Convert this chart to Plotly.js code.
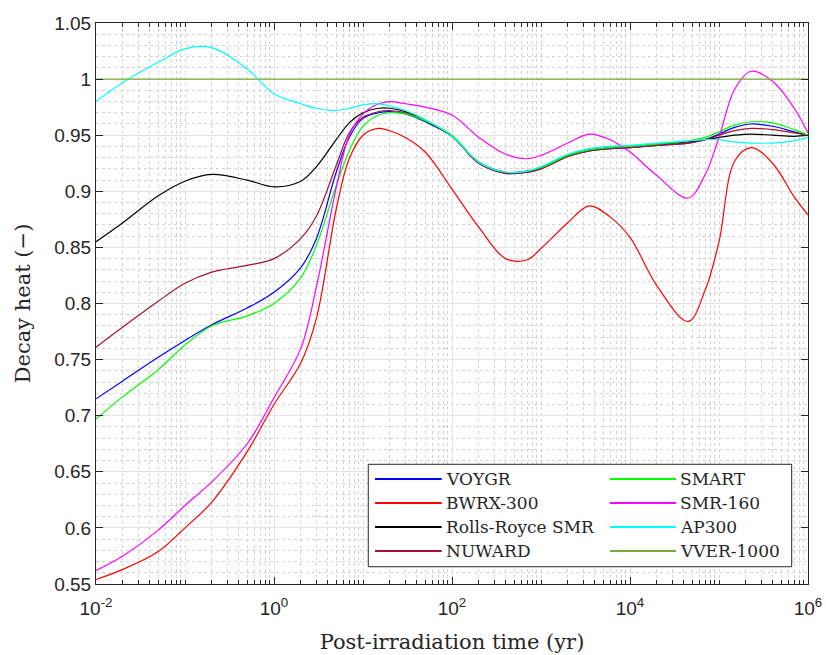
<!DOCTYPE html>
<html>
<head>
<meta charset="utf-8">
<script src="https://cdn.plot.ly/plotly-3.0.1.min.js"></script>
<style>html,body{margin:0;padding:0;background:#fff;}#chart{width:826px;height:655px;}</style>
</head>
<body>
<div id="chart"></div>
<script>
// Post-irradiation time (yr)
const timeYr = [0.01, 0.02, 0.05, 0.1, 0.2, 0.5, 1, 2, 3, 5, 7, 10, 15, 20, 30, 50, 100, 200, 400, 700,
  1000, 2000, 3500, 6000, 10000, 20000, 45000, 70000, 100000, 150000, 230000, 400000, 700000, 1000000];

const voygr = [0.715, 0.731, 0.752, 0.767, 0.781, 0.796, 0.810, 0.832, 0.858, 0.917, 0.948, 0.965, 0.970, 0.971, 0.969, 0.962, 0.949, 0.925, 0.916, 0.917,
  0.920, 0.931, 0.936, 0.938, 0.939, 0.941, 0.943, 0.946, 0.951, 0.957, 0.960, 0.958, 0.953, 0.950];
const bwrx300 = [0.554, 0.563, 0.579, 0.600, 0.623, 0.668, 0.710, 0.747, 0.787, 0.884, 0.929, 0.950, 0.956, 0.954, 0.948, 0.935, 0.902, 0.868, 0.840, 0.839,
  0.849, 0.872, 0.887, 0.877, 0.859, 0.816, 0.784, 0.812, 0.855, 0.927, 0.939, 0.925, 0.895, 0.879];
const rollsRoyce = [0.855, 0.872, 0.896, 0.909, 0.915, 0.910, 0.904, 0.909, 0.922, 0.946, 0.961, 0.970, 0.974, 0.974, 0.971, 0.963, 0.949, 0.926, 0.917, 0.918,
  0.921, 0.932, 0.937, 0.939, 0.940, 0.942, 0.944, 0.946, 0.948, 0.950, 0.951, 0.950, 0.949, 0.950];
const nuward = [0.761, 0.779, 0.802, 0.818, 0.828, 0.834, 0.840, 0.858, 0.878, 0.923, 0.952, 0.966, 0.971, 0.972, 0.970, 0.963, 0.949, 0.925, 0.916, 0.917,
  0.920, 0.931, 0.936, 0.938, 0.939, 0.941, 0.943, 0.946, 0.950, 0.954, 0.956, 0.955, 0.952, 0.950];
const smart = [0.697, 0.717, 0.741, 0.763, 0.780, 0.789, 0.800, 0.823, 0.852, 0.905, 0.936, 0.958, 0.968, 0.970, 0.969, 0.963, 0.950, 0.926, 0.917, 0.918,
  0.921, 0.932, 0.937, 0.939, 0.940, 0.942, 0.945, 0.948, 0.953, 0.959, 0.962, 0.961, 0.955, 0.950];
const smr160 = [0.562, 0.575, 0.598, 0.620, 0.641, 0.675, 0.716, 0.760, 0.815, 0.903, 0.950, 0.969, 0.978, 0.980, 0.978, 0.975, 0.968, 0.948, 0.933, 0.929,
  0.932, 0.943, 0.951, 0.946, 0.935, 0.914, 0.894, 0.915, 0.948, 0.991, 1.007, 0.998, 0.974, 0.952];
const ap300 = [0.980, 0.997, 1.015, 1.027, 1.028, 1.009, 0.987, 0.978, 0.974, 0.972, 0.974, 0.977, 0.978, 0.976, 0.972, 0.964, 0.949, 0.926, 0.917, 0.918,
  0.922, 0.933, 0.938, 0.940, 0.941, 0.943, 0.945, 0.946, 0.946, 0.944, 0.943, 0.943, 0.945, 0.948];
const vver1000 = [1, 1, 1, 1, 1, 1, 1, 1, 1, 1, 1, 1, 1, 1, 1, 1, 1, 1, 1, 1,
  1, 1, 1, 1, 1, 1, 1, 1, 1, 1, 1, 1, 1, 1];

const seriesNames = ['VOYGR', 'BWRX-300', 'Rolls-Royce SMR', 'NUWARD', 'SMART', 'SMR-160', 'AP300', 'VVER-1000'];
const seriesValues = [voygr, bwrx300, rollsRoyce, nuward, smart, smr160, ap300, vver1000];
const seriesColors = ['#0000ff', '#ff0000', '#000000', '#a2142f', '#00ff00', '#ff00ff', '#00ffff', '#77ac30'];

const xTickVals = [0.01, 1, 100, 10000, 1000000];
const xTickText = ['10<sup>-2</sup>', '10<sup>0</sup>', '10<sup>2</sup>', '10<sup>4</sup>', '10<sup>6</sup>'];

const minorX = [];
for (let k = -2; k <= 5; k++) {
  for (let m = 1; m <= 9; m++) {
    if (m === 1 && k % 2 === 0) continue;
    minorX.push(m * Math.pow(10, k));
  }
}

const traces = seriesNames.map((n, i) => ({
  x: timeYr,
  y: seriesValues[i],
  name: n,
  type: 'scatter',
  mode: 'lines',
  showlegend: false,
  line: {color: seriesColors[i], width: 1.2, shape: 'spline', smoothing: 1}
}));

// Two-column legend box drawn in paper coordinates (MATLAB column-wise order)
const legBox = {x0: 0.3824, x1: 0.9771, y0: 0.0308, y1: 0.2134};
const legRowsY = [0.18717, 0.14439, 0.10160, 0.05882];
const legCols = [{l0: 0.3919, l1: 0.4855, tx: 0.4905}, {l0: 0.7219, l1: 0.8146, tx: 0.8195}];
const legFont = {family: 'DejaVu Serif, serif', size: 17, color: '#262626'};

const shapes = [{type: 'rect', xref: 'paper', yref: 'paper', x0: legBox.x0, x1: legBox.x1, y0: legBox.y0, y1: legBox.y1,
  fillcolor: '#ffffff', line: {color: '#262626', width: 1}, layer: 'above'}];
const annotations = [];
seriesNames.forEach((n, i) => {
  const col = legCols[Math.floor(i / 4)];
  const yy = legRowsY[i % 4];
  shapes.push({type: 'line', xref: 'paper', yref: 'paper', x0: col.l0, x1: col.l1, y0: yy, y1: yy,
    line: {color: seriesColors[i], width: 2}, layer: 'above'});
  annotations.push({xref: 'paper', yref: 'paper', x: col.tx, y: yy, xanchor: 'left', yanchor: 'middle',
    text: n, showarrow: false, font: legFont, borderpad: 0});
});

const axisCommon = {
  showline: true, linecolor: '#262626', linewidth: 1, mirror: 'ticks',
  ticks: 'inside', ticklen: 7, tickcolor: '#262626', tickwidth: 1,
  showgrid: true, gridcolor: '#e3e3e3', gridwidth: 1, zeroline: false,
  automargin: false,
  tickfont: {family: 'Liberation Sans, Arial, sans-serif', size: 19, color: '#262626'}
};

const layout = {
  width: 826, height: 655,
  margin: {l: 96, r: 18, t: 23, b: 71},
  paper_bgcolor: '#ffffff', plot_bgcolor: '#ffffff',
  showlegend: false,
  shapes: shapes,
  annotations: annotations,
  xaxis: Object.assign({}, axisCommon, {
    type: 'log', range: [-2, 6], tickmode: 'array', tickvals: xTickVals, ticktext: xTickText,
    ticklabelstandoff: 7,
    minor: {tickmode: 'array', tickvals: minorX, ticks: 'inside', ticklen: 4, tickcolor: '#262626',
            showgrid: true, gridcolor: '#d4d4d4', griddash: 'dot', gridwidth: 1},
    title: {text: 'Post-irradiation time (yr)', standoff: 16,
            font: {family: 'DejaVu Serif, serif', size: 21, color: '#262626'}}
  }),
  yaxis: Object.assign({}, axisCommon, {
    range: [0.55, 1.05], tick0: 0.55, dtick: 0.05,
    minor: {dtick: 0.01, ticks: 'inside', ticklen: 0, showgrid: true, gridcolor: '#d4d4d4', griddash: 'dot', gridwidth: 1},
    title: {text: 'Decay heat (\u2212)', standoff: 17,
            font: {family: 'DejaVu Serif, serif', size: 21, color: '#262626'}}
  })
};

Plotly.newPlot('chart', traces, layout, {displayModeBar: false, staticPlot: true});
</script>
</body>
</html>
